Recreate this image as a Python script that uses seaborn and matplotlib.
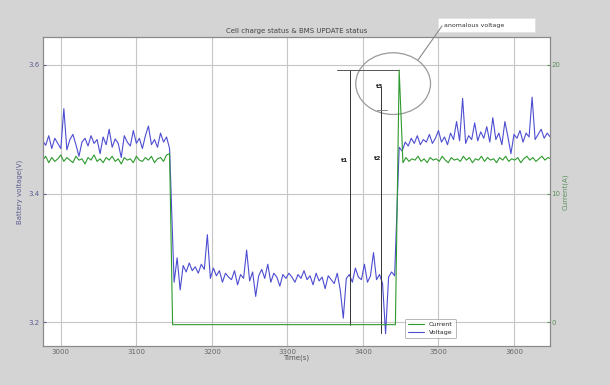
import numpy as np
import pandas as pd
import matplotlib
matplotlib.use('Agg')
import matplotlib.pyplot as plt
from matplotlib.patches import Ellipse, Rectangle
from matplotlib.lines import Line2D
import seaborn as sns

# battery log, sampled every 4 s inside each segment
dt = 4
volt_start = [2976, 3150, 3448]
volt_seg1 = [3.482, 3.475, 3.490, 3.470, 3.486, 3.478, 3.470, 3.532, 3.468, 3.484,
             3.492, 3.476, 3.458, 3.480, 3.486, 3.474, 3.490, 3.478, 3.484, 3.462,
             3.488, 3.476, 3.500, 3.472, 3.485, 3.478, 3.456, 3.490, 3.480, 3.474,
             3.498, 3.478, 3.486, 3.470, 3.490, 3.505, 3.476, 3.484, 3.472, 3.494,
             3.480, 3.488, 3.470]
volt_seg2 = [3.262, 3.300, 3.250, 3.288, 3.278, 3.292, 3.280, 3.286, 3.276, 3.290,
             3.282, 3.336, 3.268, 3.284, 3.272, 3.280, 3.262, 3.276, 3.270, 3.266,
             3.280, 3.258, 3.274, 3.268, 3.312, 3.264, 3.278, 3.240, 3.272, 3.282,
             3.268, 3.290, 3.262, 3.276, 3.270, 3.256, 3.274, 3.268, 3.276, 3.270,
             3.262, 3.274, 3.268, 3.280, 3.266, 3.272, 3.258, 3.276, 3.264, 3.270,
             3.252, 3.272, 3.266, 3.260, 3.276, 3.250, 3.206, 3.268, 3.274, 3.262,
             3.284, 3.270, 3.266, 3.290, 3.262, 3.272, 3.308, 3.266, 3.274, 3.260,
             3.182, 3.270, 3.278, 3.272]
volt_seg3 = [3.472, 3.466, 3.480, 3.474, 3.486, 3.478, 3.490, 3.476, 3.484, 3.480,
             3.492, 3.478, 3.486, 3.498, 3.480, 3.488, 3.476, 3.494, 3.484, 3.512,
             3.482, 3.548, 3.478, 3.490, 3.484, 3.510, 3.482, 3.496, 3.486, 3.504,
             3.480, 3.518, 3.484, 3.494, 3.476, 3.512, 3.488, 3.462, 3.492, 3.486,
             3.498, 3.480, 3.494, 3.488, 3.550, 3.484, 3.492, 3.500, 3.486, 3.494,
             3.488]

cur_start = [2976, 3453]
cur_seg1 = [12.6, 12.9, 12.4, 12.8, 12.5, 12.7, 13.0, 12.5, 12.8, 12.6,
            12.4, 12.9, 12.6, 12.7, 12.3, 12.8, 12.6, 13.0, 12.5, 12.7,
            12.4, 12.8, 12.6, 12.9, 12.5, 12.7, 12.3, 12.8, 12.6, 12.7,
            12.4, 12.9, 12.6, 12.5, 12.8, 12.6, 12.9, 12.4, 12.7, 12.8,
            12.5, 13.0, 13.1]
cur_mid_t = [3148, 3443, 3448]
cur_mid = [-0.2, -0.2, 19.6]
cur_seg3 = [12.4, 12.8, 12.5, 12.7, 12.6, 12.9, 12.5, 12.7, 12.4, 12.8,
            12.6, 12.7, 12.5, 12.9, 12.6, 12.4, 12.8, 12.6, 12.7, 12.5,
            12.9, 12.6, 12.8, 12.4, 12.7, 12.6, 12.9, 12.5, 12.8, 12.6,
            12.7, 12.4, 12.8, 12.6, 12.9, 12.5, 12.7, 12.6, 12.8, 12.4,
            12.7, 12.9, 12.6, 12.8, 12.5, 12.7, 12.9, 12.6, 12.8, 12.7]

x_ticks = [3000, 3100, 3200, 3300, 3400, 3500, 3600]
v_ticks = [3.2, 3.4, 3.6]
c_ticks = [0, 10, 20]

def seg_time(start, vals):
    return start + dt * np.arange(len(vals))

volt_t = np.concatenate([seg_time(s, v) for s, v in zip(volt_start, [volt_seg1, volt_seg2, volt_seg3])])
df_v = pd.DataFrame({'time': volt_t, 'voltage': volt_seg1 + volt_seg2 + volt_seg3})
cur_t = np.concatenate([seg_time(cur_start[0], cur_seg1), cur_mid_t, seg_time(cur_start[1], cur_seg3)])
df_c = pd.DataFrame({'time': cur_t, 'current': cur_seg1 + cur_mid + cur_seg3})

sns.set_style('white')
plt.rcParams['font.family'] = ['DejaVu Sans']

blue = '#4d4dd2'
green = '#2e9a2e'

fig = plt.figure(figsize=(6.1, 3.85), dpi=100, facecolor='#d4d4d4')
ax = fig.add_axes([0.070, 0.101, 0.832, 0.803])
ax.set_facecolor('white')

sns.lineplot(data=df_v, x='time', y='voltage', ax=ax, color=blue, lw=0.8,
             estimator=None, sort=False, label='Voltage', legend=False)
ax.set_xlim(2976, 3648)
ax.set_ylim(3.1626, 3.6436)
ax.set_xticks(x_ticks)
ax.set_xticklabels([str(x) for x in x_ticks])
ax.set_yticks(v_ticks)
ax.set_yticklabels(['3.2', '3.4', '3.6'])
ax.grid(True, color='#c6c6c6', lw=0.8)
ax.tick_params(axis='both', labelsize=5, length=2, direction='in', pad=2)
ax.tick_params(axis='x', colors='#666666')
ax.tick_params(axis='y', colors='#5c5c90')
ax.set_xlabel('Time(s)', fontsize=5, color='#555555', labelpad=0)
ax.set_ylabel('Battery voltage(V)', fontsize=5, color='#5c5c90', labelpad=4)
ax.set_title('Cell charge status & BMS UPDATE status', fontsize=5, color='#444444', pad=3)

ax2 = ax.twinx()
sns.lineplot(data=df_c, x='time', y='current', ax=ax2, color=green, lw=0.8,
             estimator=None, sort=False, label='Current', legend=False)
ax2.set_ylim(-1.87, 22.18)
ax2.set_yticks(c_ticks)
ax2.set_yticklabels([str(c) for c in c_ticks])
ax2.tick_params(axis='y', labelsize=5, length=2, direction='in', pad=1, colors='#5c905c')
ax2.set_ylabel('Current(A)', fontsize=5, color='#5c905c', labelpad=1)
ax2.grid(False)

for a in (ax, ax2):
    for s in a.spines.values():
        s.set_color('#8a8a8a')
        s.set_linewidth(0.8)

# markers of the anomalous voltage event
ax.plot([3383, 3383], [3.592, 3.196], color='#333333', lw=0.7)
ax.plot([3424, 3424], [3.566, 3.183], color='#333333', lw=0.7)
ax.plot([3366, 3448], [3.592, 3.592], color='#555555', lw=0.7)
ax.plot([3418, 3432], [3.530, 3.530], color='#777777', lw=0.6)
ax.text(3376, 3.452, 't1', fontsize=4.5, fontweight='bold', ha='center', va='center', color='#222222')
ax.text(3420, 3.455, 't2', fontsize=4.5, fontweight='bold', ha='center', va='center', color='#222222')
ax.text(3422, 3.567, 't3', fontsize=4.5, fontweight='bold', ha='center', va='center', color='#222222')
ax.add_patch(Ellipse((3440, 3.571), 99, 0.096, fill=False, edgecolor='#9a9a9a', lw=0.9))

# call-out box
fig.add_artist(Rectangle((438 / 610, 1 - 32 / 385), 97 / 610, 14 / 385,
                         transform=fig.transFigure, facecolor='white', edgecolor='#e0e0e0', lw=0.5))
fig.text(444 / 610, 1 - 25 / 385, 'anomalous voltage', fontsize=4.5, color='#333333', va='center')
fig.add_artist(Line2D([418 / 610, 442 / 610], [1 - 60 / 385, 1 - 26 / 385],
                      transform=fig.transFigure, color='#8a8a8a', lw=0.8))

handles = [Line2D([], [], color=green, lw=0.8), Line2D([], [], color=blue, lw=0.8)]
leg = ax2.legend(handles, ['Current', 'Voltage'], loc='lower left', bbox_to_anchor=(0.708, 0.015),
                 fontsize=4.5, handlelength=2.5, frameon=True, borderpad=0.5, labelspacing=0.4)
leg.get_frame().set_edgecolor('#999999')
leg.get_frame().set_linewidth(0.6)

fig.savefig('out.png', dpi=100, facecolor=fig.get_facecolor())
